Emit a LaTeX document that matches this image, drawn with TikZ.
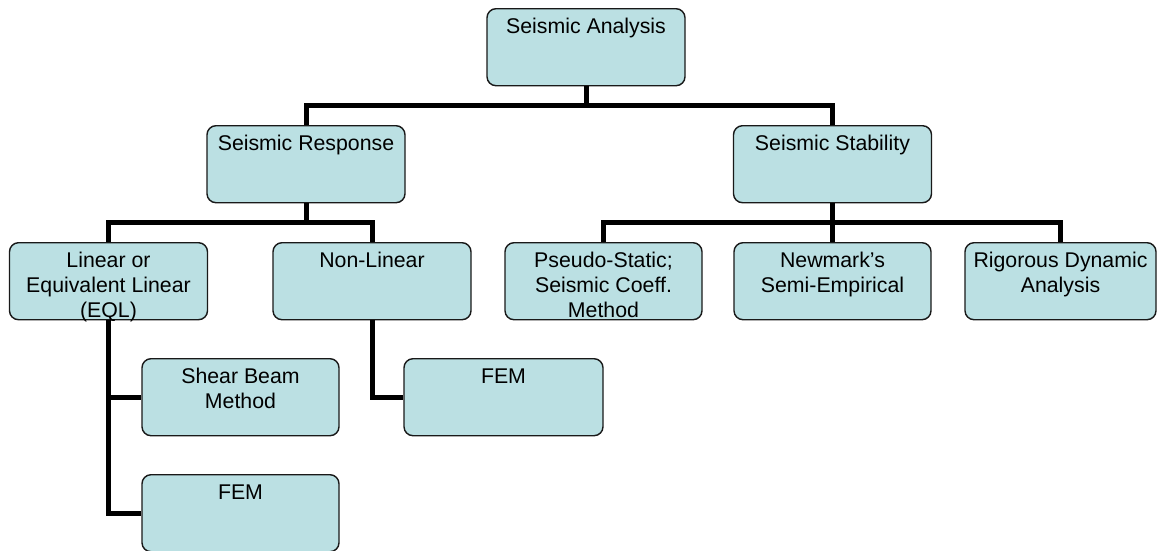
\documentclass[tikz,border=0pt]{standalone}
\usepackage{fontspec}
\setmainfont{Liberation Sans}
\definecolor{boxfill}{RGB}{187,224,227}
\definecolor{boxline}{RGB}{25,25,25}
\newcommand{\bt}[2]{\parbox[c][77pt][t]{#1}{\centering\rule{0pt}{25pt}#2}}
\tikzset{
  box/.style={draw=boxline, line width=1.4pt, fill=boxfill, rounded corners=9pt,
    inner sep=0pt, anchor=north, font=\fontsize{21.3}{25}\selectfont},
  conn/.style={draw=black, line width=5pt, line join=miter}
}
\begin{document}
\begin{tikzpicture}[x=1pt,y=-1pt]
\useasboundingbox (0,0) rectangle (1157,550);
% nodes
\node[box] (A)  at (586,8)     {\bt{198pt}{Seismic Analysis}};
\node[box] (R)  at (306,125)   {\bt{198pt}{Seismic Response}};
\node[box] (S)  at (832.5,125) {\bt{198pt}{Seismic Stability}};
\node[box] (L)  at (108.5,242) {\bt{198pt}{Linear or\\Equivalent Linear\\(EQL)}};
\node[box] (N)  at (372,242)   {\bt{198pt}{Non-Linear}};
\node[box] (P)  at (603.5,242) {\bt{197pt}{Pseudo-Static;\\Seismic Coeff.\\Method}};
\node[box] (NM) at (832.5,242) {\bt{197pt}{Newmark’s\\Semi-Empirical}};
\node[box] (RD) at (1060.5,242){\bt{191pt}{Rigorous Dynamic\\Analysis}};
\node[box] (SB) at (240.5,358) {\bt{197pt}{Shear Beam\\Method}};
\node[box] (F1) at (503.5,358) {\bt{199pt}{FEM}};
\node[box] (F2) at (240.5,474) {\bt{197pt}{FEM}};
% junctions
\coordinate (b1) at (586,105);
\coordinate (b2) at (306,222);
\coordinate (b3) at (832.5,222);
% connectors
\begin{scope}[on background layer/.style={}]
\draw[conn] (A.south) -- (b1);
\draw[conn] (R.north) |- (b1) -| (S.north);
\draw[conn] (R.south) -- (b2);
\draw[conn] (L.north) |- (b2) -| (N.north);
\draw[conn] (S.south) -- (NM.north);
\draw[conn] (P.north) |- (b3) -| (RD.north);
\draw[conn] (L.south) |- (F2.west);
\draw[conn] (L.south |- SB.west) -- (SB.west);
\draw[conn] (N.south) |- (F1.west);
\end{scope}
\end{tikzpicture}
\end{document}
